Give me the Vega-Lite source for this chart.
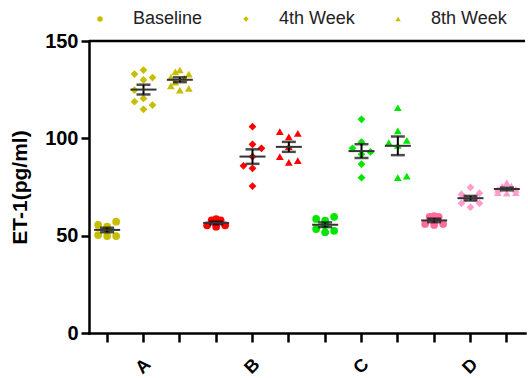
{
  "$schema": "https://vega.github.io/schema/vega-lite/v6.json",
  "width": 436,
  "height": 292,
  "autosize": {"type": "none"},
  "padding": {"left": 89, "top": 41, "right": 3, "bottom": 45},
  "background": "white",
  "config": {
    "view": {"stroke": null},
    "font": "Liberation Sans",
    "axis": {"grid": false, "domainColor": "black", "tickColor": "black", "labelColor": "black", "titleColor": "black", "domainWidth": 2.5, "tickWidth": 2.5, "labelFontWeight": "bold", "titleFontWeight": "bold", "domainCap": "square"}
  },
  "data": {
    "values": [
      {"g": "A", "t": "Baseline", "v": 57.2, "c": 2},
      {"g": "A", "t": "Baseline", "v": 55.5, "c": -2},
      {"g": "A", "t": "Baseline", "v": 54.6, "c": 0},
      {"g": "A", "t": "Baseline", "v": 53.5, "c": 0},
      {"g": "A", "t": "Baseline", "v": 50.3, "c": -2},
      {"g": "A", "t": "Baseline", "v": 49.8, "c": 0},
      {"g": "A", "t": "Baseline", "v": 49.8, "c": 2},
      {"g": "A", "t": "4th Week", "v": 133.0, "c": -2},
      {"g": "A", "t": "4th Week", "v": 135.1, "c": 0},
      {"g": "A", "t": "4th Week", "v": 131.2, "c": 2},
      {"g": "A", "t": "4th Week", "v": 130.0, "c": 0},
      {"g": "A", "t": "4th Week", "v": 124.8, "c": -2},
      {"g": "A", "t": "4th Week", "v": 120.5, "c": 0},
      {"g": "A", "t": "4th Week", "v": 118.8, "c": -2},
      {"g": "A", "t": "4th Week", "v": 117.1, "c": 2},
      {"g": "A", "t": "4th Week", "v": 114.9, "c": 0},
      {"g": "A", "t": "8th Week", "v": 134.1, "c": -1},
      {"g": "A", "t": "8th Week", "v": 135.1, "c": 0},
      {"g": "A", "t": "8th Week", "v": 133.0, "c": 2},
      {"g": "A", "t": "8th Week", "v": 131.3, "c": -2},
      {"g": "A", "t": "8th Week", "v": 131.0, "c": 1},
      {"g": "A", "t": "8th Week", "v": 128.9, "c": -1},
      {"g": "A", "t": "8th Week", "v": 126.9, "c": -2},
      {"g": "A", "t": "8th Week", "v": 124.8, "c": 0},
      {"g": "A", "t": "8th Week", "v": 125.7, "c": 2},
      {"g": "B", "t": "Baseline", "v": 57.8, "c": -1},
      {"g": "B", "t": "Baseline", "v": 58.5, "c": 0},
      {"g": "B", "t": "Baseline", "v": 57.8, "c": 1},
      {"g": "B", "t": "Baseline", "v": 55.3, "c": -2},
      {"g": "B", "t": "Baseline", "v": 54.6, "c": 0},
      {"g": "B", "t": "Baseline", "v": 55.3, "c": 2},
      {"g": "B", "t": "4th Week", "v": 106.0, "c": 0},
      {"g": "B", "t": "4th Week", "v": 96.9, "c": 0},
      {"g": "B", "t": "4th Week", "v": 94.9, "c": 2},
      {"g": "B", "t": "4th Week", "v": 90.6, "c": 0},
      {"g": "B", "t": "4th Week", "v": 85.9, "c": -2},
      {"g": "B", "t": "4th Week", "v": 84.6, "c": 0},
      {"g": "B", "t": "4th Week", "v": 75.5, "c": 0},
      {"g": "B", "t": "8th Week", "v": 103.4, "c": -2},
      {"g": "B", "t": "8th Week", "v": 100.8, "c": 0},
      {"g": "B", "t": "8th Week", "v": 102.6, "c": 2},
      {"g": "B", "t": "8th Week", "v": 95.7, "c": 0},
      {"g": "B", "t": "8th Week", "v": 90.6, "c": -2},
      {"g": "B", "t": "8th Week", "v": 87.7, "c": 0},
      {"g": "B", "t": "8th Week", "v": 88.5, "c": 2},
      {"g": "C", "t": "Baseline", "v": 58.6, "c": -2},
      {"g": "C", "t": "Baseline", "v": 57.7, "c": 0},
      {"g": "C", "t": "Baseline", "v": 59.7, "c": 2},
      {"g": "C", "t": "Baseline", "v": 55.6, "c": 0},
      {"g": "C", "t": "Baseline", "v": 53.4, "c": -2},
      {"g": "C", "t": "Baseline", "v": 51.7, "c": 0},
      {"g": "C", "t": "Baseline", "v": 52.5, "c": 2},
      {"g": "C", "t": "4th Week", "v": 109.8, "c": 0},
      {"g": "C", "t": "4th Week", "v": 98.1, "c": 0},
      {"g": "C", "t": "4th Week", "v": 94.9, "c": -2},
      {"g": "C", "t": "4th Week", "v": 93.0, "c": 2},
      {"g": "C", "t": "4th Week", "v": 91.8, "c": 0},
      {"g": "C", "t": "4th Week", "v": 86.7, "c": 0},
      {"g": "C", "t": "4th Week", "v": 79.8, "c": 0},
      {"g": "C", "t": "8th Week", "v": 115.7, "c": 0},
      {"g": "C", "t": "8th Week", "v": 103.8, "c": 0},
      {"g": "C", "t": "8th Week", "v": 97.8, "c": -2},
      {"g": "C", "t": "8th Week", "v": 99.0, "c": 2},
      {"g": "C", "t": "8th Week", "v": 96.4, "c": 0},
      {"g": "C", "t": "8th Week", "v": 79.8, "c": 0},
      {"g": "C", "t": "8th Week", "v": 80.6, "c": 2},
      {"g": "D", "t": "Baseline", "v": 56.0, "c": -2},
      {"g": "D", "t": "Baseline", "v": 55.5, "c": 0},
      {"g": "D", "t": "Baseline", "v": 56.0, "c": 2},
      {"g": "D", "t": "Baseline", "v": 59.7, "c": -1},
      {"g": "D", "t": "Baseline", "v": 60.1, "c": 0},
      {"g": "D", "t": "Baseline", "v": 59.7, "c": 1},
      {"g": "D", "t": "4th Week", "v": 74.8, "c": 0},
      {"g": "D", "t": "4th Week", "v": 71.2, "c": -2},
      {"g": "D", "t": "4th Week", "v": 71.8, "c": 2},
      {"g": "D", "t": "4th Week", "v": 69.2, "c": -1},
      {"g": "D", "t": "4th Week", "v": 69.2, "c": 1},
      {"g": "D", "t": "4th Week", "v": 66.6, "c": -2},
      {"g": "D", "t": "4th Week", "v": 66.6, "c": 2},
      {"g": "D", "t": "4th Week", "v": 64.6, "c": 0},
      {"g": "D", "t": "8th Week", "v": 77.2, "c": 0},
      {"g": "D", "t": "8th Week", "v": 75.5, "c": -1},
      {"g": "D", "t": "8th Week", "v": 75.5, "c": 1},
      {"g": "D", "t": "8th Week", "v": 73.8, "c": -2},
      {"g": "D", "t": "8th Week", "v": 73.8, "c": 2},
      {"g": "D", "t": "8th Week", "v": 71.8, "c": 0},
      {"g": "D", "t": "8th Week", "v": 72.1, "c": -2},
      {"g": "D", "t": "8th Week", "v": 72.1, "c": 2}
    ]
  },
  "transform": [
    {"calculate": "datum.g + ' ' + datum.t", "as": "slot"},
    {"calculate": "datum.g == 'D' && datum.t == 'Baseline' ? 'D0' : datum.g", "as": "ck"}
  ],
  "layer": [
    {
      "data": {"values": [{"top": 150}]},
      "mark": {"type": "rule", "color": "black", "strokeWidth": 2.5},
      "encoding": {"y": {"field": "top", "type": "quantitative", "title": "ET-1(pg/ml)"}}
    },
    {
      "mark": {"type": "point", "filled": true, "opacity": 1, "size": 60},
      "encoding": {
        "x": {
          "field": "slot", "type": "nominal", "title": null,
          "scale": {"domain": ["A Baseline", "A 4th Week", "A 8th Week", "B Baseline", "B 4th Week", "B 8th Week", "C Baseline", "C 4th Week", "C 8th Week", "D Baseline", "D 4th Week", "D 8th Week"], "paddingInner": 0, "paddingOuter": 0},
          "axis": {"labelExpr": "indexof(datum.value, '4th') >= 0 ? substring(datum.value, 0, 1) : ''", "labelAngle": -45, "labelAlign": "center", "labelBaseline": "middle", "labelFontSize": 18, "labelPadding": 24, "tickSize": 9}
        },
        "xOffset": {"field": "c", "type": "quantitative", "scale": {"domain": [-2, 2], "range": [9.15, 27.15]}},
        "y": {
          "field": "v", "type": "quantitative", "title": "ET-1(pg/ml)",
          "scale": {"domain": [0, 150], "nice": false},
          "axis": {"values": [0, 50, 100, 150], "labelFontSize": 20, "titleFontSize": 21, "tickSize": 8, "labelPadding": 3, "titlePadding": 14}
        },
        "shape": {
          "field": "t", "type": "nominal",
          "scale": {"domain": ["Baseline", "4th Week", "8th Week"], "range": ["circle", "diamond", "triangle-up"]},
          "legend": {"orient": "none", "legendX": 2, "legendY": -31, "direction": "horizontal", "title": null, "labelFontSize": 18, "labelColor": "#222222", "symbolSize": 30, "labelOffset": 24, "columnPadding": 34, "symbolFillColor": "#c8be00", "symbolStrokeColor": "#c8be00", "symbolStrokeWidth": 0}
        },
        "color": {
          "field": "ck", "type": "nominal",
          "scale": {"domain": ["A", "B", "C", "D0", "D"], "range": ["#c8be00", "#ff0000", "#00e600", "#ff6b9b", "#ff9ccc"]},
          "legend": null
        }
      }
    },
    {
      "mark": {"type": "errorbar", "extent": "stderr", "color": "black", "ticks": {"size": 14, "thickness": 2.5, "color": "black"}, "rule": {"strokeWidth": 2, "color": "black"}},
      "encoding": {
        "x": {"field": "slot", "type": "nominal", "title": null},
        "y": {"field": "v", "type": "quantitative", "title": "ET-1(pg/ml)"}
      }
    },
    {
      "mark": {"type": "tick", "size": 26, "thickness": 2, "color": "#333333"},
      "encoding": {
        "x": {"field": "slot", "type": "nominal", "title": null},
        "y": {"aggregate": "mean", "field": "v", "type": "quantitative", "title": "ET-1(pg/ml)"}
      }
    }
  ]
}
